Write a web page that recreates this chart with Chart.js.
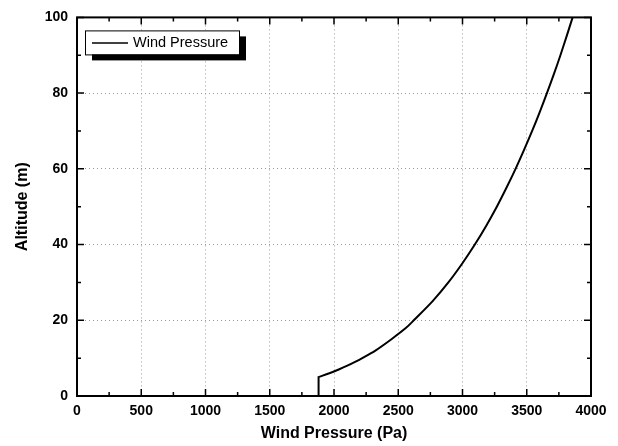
<!DOCTYPE html>
<html><head><meta charset="utf-8">
<script src="https://cdn.jsdelivr.net/npm/chart.js@4"></script>
<style>html,body{margin:0;padding:0;background:#fff}#w{width:618px;height:446px}</style>
</head><body><div id="w"><canvas id="c"></canvas></div>
<script>
const seriesLabel = "Wind Pressure";
const altitude = [0, 5, 5, 6, 7, 8, 9, 10, 12, 15, 18, 20, 25, 30, 35, 40, 45, 50, 55, 60, 65, 70, 75, 80, 85, 90, 95, 100];
const pressure = [1880, 1880, 1880, 1964, 2037, 2104, 2164, 2220, 2322, 2447, 2561, 2621, 2766, 2890, 2998, 3096, 3185, 3267, 3342, 3413, 3479, 3542, 3601, 3657, 3711, 3762, 3810, 3857];
const xTicksMajor = [0, 500, 1000, 1500, 2000, 2500, 3000, 3500, 4000];
const yTicksMajor = [0, 20, 40, 60, 80, 100];
const xTitle = "Wind Pressure (Pa)";
const yTitle = "Altitude (m)";

const pts = pressure.map((p, i) => ({x: p, y: altitude[i]}));
const FONT = '"Liberation Sans", Arial, sans-serif';

const frame = {
  id: 'frame',
  afterDraw(chart) {
    const {ctx, chartArea: a, scales: {x, y}} = chart;
    ctx.save();
    ctx.strokeStyle = '#000';
    ctx.lineWidth = 1.5;
    ctx.beginPath();
    for (let v = 0; v <= 4000; v += 250) {
      const px = x.getPixelForValue(v);
      const len = v % 500 === 0 ? 7 : 4;
      ctx.moveTo(px, a.bottom); ctx.lineTo(px, a.bottom - len);
      ctx.moveTo(px, a.top); ctx.lineTo(px, a.top + len);
    }
    for (let v = 0; v <= 100; v += 10) {
      const py = y.getPixelForValue(v);
      const len = v % 20 === 0 ? 7 : 4;
      ctx.moveTo(a.left, py); ctx.lineTo(a.left + len, py);
      ctx.moveTo(a.right, py); ctx.lineTo(a.right - len, py);
    }
    ctx.stroke();
    ctx.lineWidth = 2;
    ctx.strokeRect(a.left, a.top, a.right - a.left, a.bottom - a.top);
    // legend
    const lx = a.left + 8, ly = a.top + 13, lw = 154, lh = 24;
    ctx.fillStyle = '#000';
    ctx.fillRect(lx + 7, ly + 6, lw, lh);
    ctx.fillStyle = '#fff';
    ctx.fillRect(lx, ly, lw, lh);
    ctx.lineWidth = 1;
    ctx.strokeRect(lx + 0.5, ly + 0.5, lw, lh);
    ctx.lineWidth = 1.5;
    ctx.beginPath();
    ctx.moveTo(lx + 7, ly + 12.5); ctx.lineTo(lx + 43, ly + 12.5);
    ctx.stroke();
    ctx.fillStyle = '#000';
    ctx.font = '14.5px ' + FONT;
    ctx.textBaseline = 'middle';
    ctx.fillText(chart.data.datasets[0].label, lx + 48, ly + 13);
    ctx.restore();
  }
};

new Chart(document.getElementById('c'), {
  type: 'scatter',
  data: { datasets: [{ label: seriesLabel, data: pts, showLine: true, borderColor: '#000', borderWidth: 2, pointRadius: 0, tension: 0.3, fill: false }] },
  options: {
    responsive: true, maintainAspectRatio: false, animation: false,
    layout: { padding: { left: 0, top: 16, right: 27, bottom: 0 } },
    plugins: { legend: { display: false }, tooltip: { enabled: false } },
    scales: {
      x: {
        type: 'linear', min: 0, max: 4000,
        afterFit(s) { s.height = 50; },
        afterBuildTicks(s) { s.ticks = xTicksMajor.map(v => ({value: v})); },
        grid: { color: '#999', lineWidth: 1, drawTicks: false },
        border: { display: false, dash: [1, 3] },
        ticks: { color: '#000', padding: 7, maxRotation: 0, callback: v => String(v), font: { family: FONT, size: 14, weight: 'bold' } },
        title: { display: true, text: xTitle, color: '#000', padding: { top: 4, bottom: 3 }, font: { family: FONT, size: 16, weight: 'bold' } }
      },
      y: {
        type: 'linear', min: 0, max: 100,
        afterFit(s) { s.width = 77; },
        afterBuildTicks(s) { s.ticks = yTicksMajor.map(v => ({value: v})); },
        grid: { color: '#999', lineWidth: 1, drawTicks: false },
        border: { display: false, dash: [1, 3] },
        ticks: { color: '#000', padding: 9, callback: v => String(v), font: { family: FONT, size: 14, weight: 'bold' } },
        title: { display: true, text: yTitle, color: '#000', padding: { top: 13, bottom: 0 }, font: { family: FONT, size: 16, weight: 'bold' } }
      }
    }
  },
  plugins: [frame]
});
</script></body></html>
